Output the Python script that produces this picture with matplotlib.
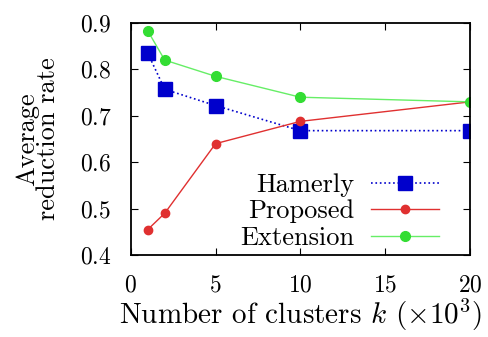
import matplotlib
matplotlib.use("Agg")
from matplotlib import pyplot as plt

plt.rcParams['font.family'] = ['cmr10', 'DejaVu Serif']
plt.rcParams['mathtext.fontset'] = 'cm'
plt.rcParams['axes.formatter.use_mathtext'] = True

k = [1, 2, 5, 10, 20]
hamerly = [0.835, 0.757, 0.722, 0.668, 0.668]
proposed = [0.455, 0.49, 0.64, 0.688, 0.73]
extension = [0.883, 0.82, 0.785, 0.74, 0.73]

fig = plt.figure(figsize=(4.88, 3.37), dpi=100)
ax = fig.add_axes([0.268, 0.243, 0.695, 0.689])

ax.plot(k, hamerly, color='#0000cc', linestyle=':', linewidth=1.2,
        marker='s', markersize=9.5, label='Hamerly')
ax.plot(k, proposed, color='#e03030', linestyle='-', linewidth=1.0,
        marker='o', markersize=6, label='Proposed')
ax.plot(k, extension, color='#66ee66', linestyle='-', linewidth=1.0,
        marker='o', markersize=7, markerfacecolor='#33dd33',
        markeredgecolor='#33dd33', label='Extension')

ax.set_xlim(0, 20)
ax.set_ylim(0.4, 0.9)
ax.set_xticks([0, 5, 10, 15, 20])
ax.set_yticks([0.4, 0.5, 0.6, 0.7, 0.8, 0.9])
ax.tick_params(direction='in', top=True, right=True, labelsize=17, length=5,
               pad=14)
for s in ax.spines.values():
    s.set_linewidth(1.3)

ax.set_xlabel(r'Number of clusters $k$ ($\times 10^3$)', fontsize=21, labelpad=0)
ax.set_ylabel('Average\nreduction rate', fontsize=19, linespacing=0.85,
              labelpad=14)

ax.legend(loc='lower right', frameon=False, markerfirst=False, fontsize=19,
          handlelength=2.6, handletextpad=0.6, labelspacing=0.1,
          borderaxespad=0.0, borderpad=0.2, bbox_to_anchor=(0.925, 0.0))

fig.savefig('out.png', dpi=100)
